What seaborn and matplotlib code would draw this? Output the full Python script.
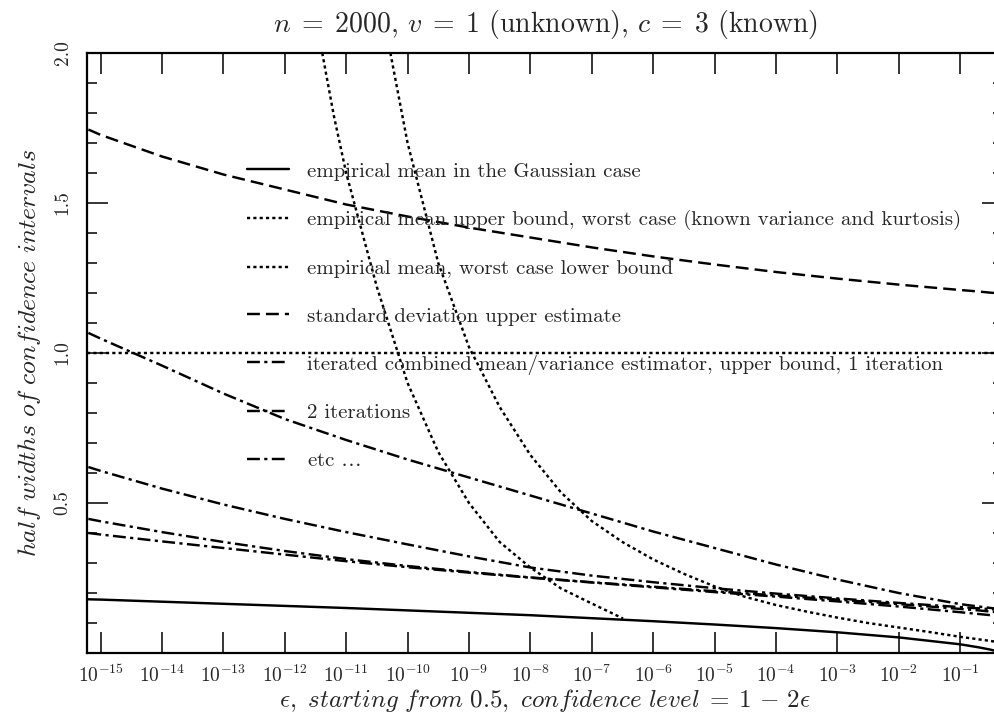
import numpy as np
import matplotlib
matplotlib.use("Agg")
import matplotlib.pyplot as plt
from matplotlib.ticker import FixedLocator, FormatStrFormatter, LogFormatterMathtext, NullLocator
import seaborn as sns

sns.set_style("ticks")
plt.rcParams['font.family'] = ['cmr10', 'DejaVu Serif']
plt.rcParams['mathtext.fontset'] = 'cm'
plt.rcParams['axes.formatter.use_mathtext'] = True
plt.rcParams['axes.unicode_minus'] = True

# ### values (x given as log10 of epsilon)
grid_log_eps = [-15.2, -15, -14, -13, -12, -11, -10, -9, -8, -7, -6, -5, -4, -3, -2, -1, -0.7, -0.5, -0.3]

gaussian_mean = [0.179, 0.178, 0.171, 0.164, 0.157, 0.150, 0.142, 0.134, 0.126, 0.116,
                 0.106, 0.095, 0.083, 0.069, 0.052, 0.029, 0.019, 0.011, 0.0]

std_upper = [1.745, 1.727, 1.655, 1.595, 1.545, 1.495, 1.455, 1.418, 1.385, 1.352,
             1.322, 1.295, 1.27, 1.248, 1.228, 1.21, 1.205, 1.201, 1.198]

iter_1 = [1.067, 1.048, 0.958, 0.865, 0.78, 0.71, 0.645, 0.585, 0.525, 0.465,
          0.405, 0.35, 0.295, 0.245, 0.20, 0.163, 0.155, 0.15, 0.145]
iter_2 = [0.62, 0.607, 0.548, 0.495, 0.447, 0.403, 0.362, 0.322, 0.285, 0.258,
          0.236, 0.216, 0.198, 0.182, 0.167, 0.153, 0.149, 0.146, 0.143]
iter_3 = [0.447, 0.439, 0.403, 0.37, 0.34, 0.313, 0.29, 0.27, 0.252, 0.236,
          0.221, 0.206, 0.192, 0.178, 0.163, 0.147, 0.142, 0.138, 0.134]
iter_4 = [0.40, 0.395, 0.372, 0.35, 0.328, 0.306, 0.286, 0.268, 0.251, 0.235,
          0.219, 0.203, 0.188, 0.172, 0.155, 0.136, 0.13, 0.126, 0.122]

upper_log_eps = [-10.28, -10.0, -9.5, -9.0, -8.5, -8.0, -7.5, -7.0, -6.5, -6.0, -5.5,
                 -5.0, -4.5, -4.0, -3.5, -3.0, -2.5, -2.0, -1.5, -1.0, -0.5, -0.3]
upper_bound = [2.0, 1.70, 1.30, 1.02, 0.82, 0.66, 0.535, 0.44, 0.37, 0.312, 0.264,
               0.222, 0.187, 0.16, 0.138, 0.118, 0.10, 0.085, 0.07, 0.054, 0.04, 0.034]

lower_log_eps = [-11.39, -11.2, -11.0, -10.5, -10.0, -9.5, -9.0, -8.5, -8.0, -7.5, -7.0, -6.49]
lower_bound = [2.0, 1.79, 1.60, 1.22, 0.90, 0.67, 0.50, 0.37, 0.285, 0.215, 0.165, 0.115]

ref_level = 1.0

x_ticks_log = list(range(-15, 0))

labels = ["empirical mean in the Gaussian case",
          "empirical mean upper bound, worst case (known variance and kurtosis)",
          "empirical mean, worst case lower bound",
          "standard deviation upper estimate",
          "iterated combined mean/variance estimator, upper bound, 1 iteration",
          "2 iterations",
          r"etc $\ldots$"]

dotted = (0, (1.3, 1.3))
dashed = (0, (5.3, 2.5))
dashdot = (0, (5.3, 1.8, 1.3, 1.8))

eps = 10.0 ** np.array(grid_log_eps)

fig = plt.figure(figsize=(9.95, 7.24), dpi=100)
ax = fig.add_axes([87 / 995, 1 - 653 / 724, (1003 - 87) / 995, 600 / 724])
ax.set_xscale('log')

lw = 1.75
sns.lineplot(x=eps, y=gaussian_mean, ax=ax, color='black', lw=lw, linestyle='-', label=labels[0])
sns.lineplot(x=10.0 ** np.array(upper_log_eps), y=upper_bound, ax=ax, color='black', lw=lw,
             linestyle=dotted, label=labels[1])
sns.lineplot(x=10.0 ** np.array(lower_log_eps), y=lower_bound, ax=ax, color='black', lw=lw,
             linestyle=dotted, label=labels[2])
sns.lineplot(x=eps, y=std_upper, ax=ax, color='black', lw=lw, linestyle=dashed, label=labels[3])
sns.lineplot(x=eps, y=iter_1, ax=ax, color='black', lw=lw, linestyle=dashdot, label=labels[4])
sns.lineplot(x=eps, y=iter_2, ax=ax, color='black', lw=lw, linestyle=dashdot, label=labels[5])
sns.lineplot(x=eps, y=iter_3, ax=ax, color='black', lw=lw, linestyle=dashdot, label=labels[6])
sns.lineplot(x=eps, y=iter_4, ax=ax, color='black', lw=lw, linestyle=dashdot)
ax.axhline(ref_level, color='black', lw=lw, linestyle=dotted)

ax.set_xlim(6e-16, 0.5)
ax.set_ylim(0, 2.0)

ax.xaxis.set_major_locator(FixedLocator(10.0 ** np.array(x_ticks_log)))
ax.xaxis.set_major_formatter(LogFormatterMathtext())
ax.xaxis.set_minor_locator(NullLocator())
ax.yaxis.set_major_locator(FixedLocator([0.5, 1.0, 1.5, 2.0]))
ax.yaxis.set_minor_locator(FixedLocator(np.arange(0.1, 2.0, 0.1)))
ax.yaxis.set_major_formatter(FormatStrFormatter('%.1f'))

for side in ax.spines.values():
    side.set_linewidth(1.6)
    side.set_color('black')
ax.tick_params(which='both', direction='in', top=True, right=True, color='black', width=1.1)
ax.tick_params(which='major', length=15)
ax.tick_params(which='minor', length=7.5)
ax.tick_params(axis='x', labelsize=14, pad=8)
ax.tick_params(axis='y', labelsize=14, pad=11, labelrotation=90)
for lab in ax.get_yticklabels():
    lab.set_va('center')

ax.set_title(r"$n\;=\;2000$, $v\;=\;1$ (unknown), $c\;=\;3$ (known)", fontsize=20, pad=15)
ax.set_xlabel(r"$\epsilon\mathit{,\ starting\ from\ }0.5\mathit{,\ confidence\ level}\;=\;1\,-\,2\epsilon$",
              fontsize=18, labelpad=1)
ax.set_ylabel(r"$\mathit{half\ widths\ of\ confidence\ intervals}$", fontsize=18.5, labelpad=8)

ax.legend(loc='upper left', bbox_to_anchor=(0.1747, 0.818), frameon=False, fontsize=15,
          handlelength=2.0, handletextpad=0.9, labelspacing=1.4, borderpad=0, borderaxespad=0)

fig.savefig('out.png', dpi=100)
